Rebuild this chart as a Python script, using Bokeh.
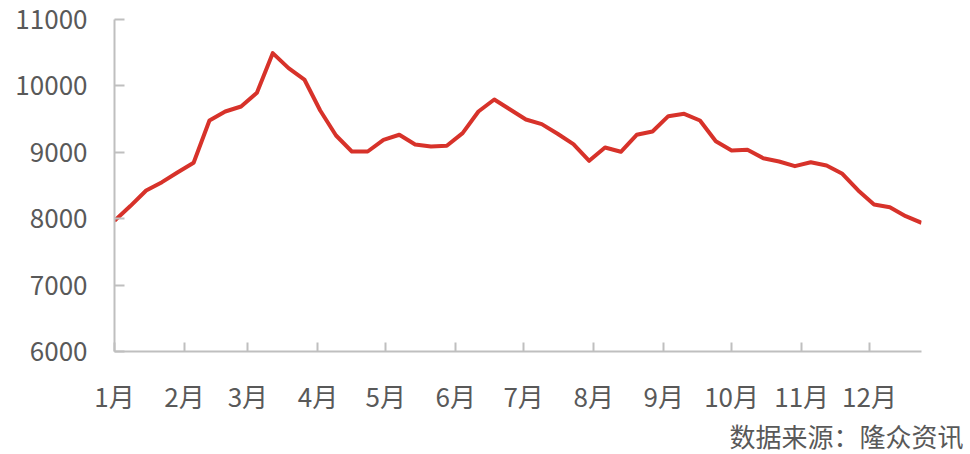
from bokeh.plotting import figure
from bokeh.models import FixedTicker, Range1d, Title
from bokeh.embed import file_html
from bokeh.resources import INLINE

# Weekly observations (day offset from 1 Jan) and values
week_days = [7 * i for i in range(52)]
values = [7970, 8190, 8425, 8550, 8700, 8842, 9479, 9614, 9690, 9896,
          10493, 10267, 10096, 9630, 9253, 9012, 9012, 9188, 9264, 9117,
          9087, 9098, 9288, 9614, 9795, 9645, 9494, 9424, 9279, 9122,
          8872, 9072, 9008, 9264, 9313, 9544, 9580, 9479, 9167, 9027,
          9037, 8911, 8861, 8791, 8851, 8801, 8676, 8425, 8214, 8173,
          8038, 7938]

month_start_days = [0, 31, 59, 90, 120, 151, 181, 212, 243, 273, 304, 334]
month_labels = ["1月", "2月", "3月", "4月", "5月", "6月", "7月", "8月", "9月", "10月", "11月", "12月"]
y_ticks = [6000, 7000, 8000, 9000, 10000, 11000]
source_text = "数据来源：隆众资讯"

FONT = "Noto Sans CJK SC"
GRAY = "#595959"
AXIS = "#bfbfbf"
FS = "26px"

p = figure(width=966, height=453, output_backend="svg", toolbar_location=None,
           x_range=Range1d(0, 357), y_range=Range1d(6000, 11000),
           min_border_left=114, min_border_right=45, min_border_top=19, min_border_bottom=102)
p.outline_line_color = None
p.xgrid.grid_line_color = None
p.ygrid.grid_line_color = None
p.background_fill_color = "white"
p.border_fill_color = "white"

p.line(week_days, values, line_color="#d7322a", line_width=4, line_join="round")

xa = p.xaxis[0]
xa.ticker = FixedTicker(ticks=month_start_days)
xa.major_label_overrides = {d: l for d, l in zip(month_start_days, month_labels)}
xa.minor_tick_line_color = None
xa.major_tick_in = 9
xa.major_tick_out = 0
xa.axis_line_color = AXIS
xa.axis_line_width = 2
xa.major_tick_line_color = AXIS
xa.major_tick_line_width = 2
xa.major_label_text_font = FONT
xa.major_label_text_font_size = FS
xa.major_label_text_color = GRAY
xa.major_label_standoff = 25

ya = p.yaxis[0]
ya.ticker = FixedTicker(ticks=y_ticks)
ya.minor_tick_line_color = None
ya.major_tick_in = 10
ya.major_tick_out = 0
ya.axis_line_color = AXIS
ya.axis_line_width = 2
ya.major_tick_line_color = AXIS
ya.major_tick_line_width = 2
ya.major_label_text_font = FONT
ya.major_label_text_font_size = FS
ya.major_label_text_color = GRAY
ya.major_label_standoff = 27

src = Title(text=source_text, align="right", offset=-42, text_font=FONT,
            text_font_size=FS, text_font_style="normal", text_color=GRAY,
            standoff=-3)
p.add_layout(src, "below")

open("out.html", "w").write(file_html(p, INLINE))
